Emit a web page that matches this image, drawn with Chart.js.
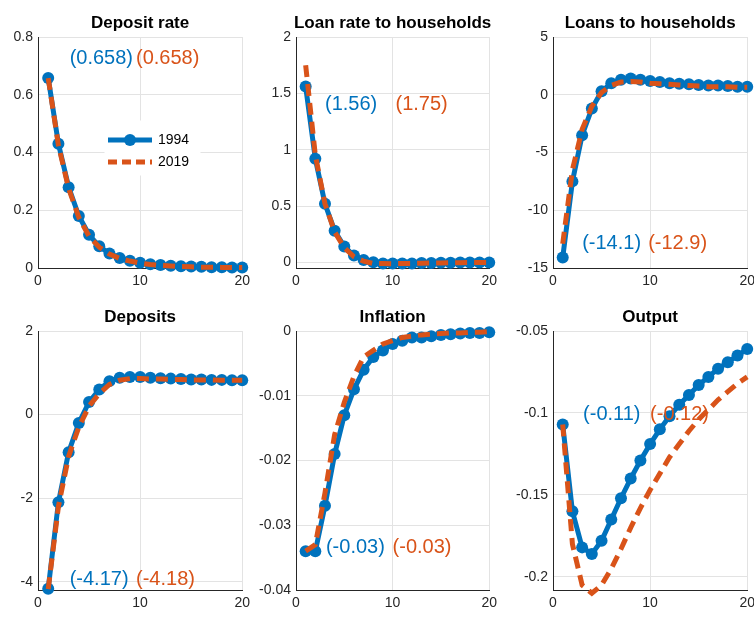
<!DOCTYPE html><html><head><meta charset="utf-8">
<script src="https://cdn.jsdelivr.net/npm/chart.js@4/dist/chart.umd.min.js"></script>
<style>body{margin:0;background:#fff;width:754px;height:619px;overflow:hidden;position:relative;font-family:"Liberation Sans",Arial,sans-serif}
.c{position:absolute}</style></head><body>
<script>
const periods=[1,2,3,4,5,6,7,8,9,10,11,12,13,14,15,16,17,18,19,20];
const depRate94=[0.658,0.43,0.28,0.18,0.115,0.075,0.05,0.035,0.025,0.018,0.013,0.01,0.008,0.006,0.005,0.004,0.003,0.003,0.002,0.002];
const depRate19=[0.658,0.425,0.275,0.175,0.11,0.072,0.048,0.033,0.024,0.017,0.012,0.009,0.007,0.005,0.004,0.003,0.003,0.002,0.002,0.002];
const loanRate94=[1.56,0.92,0.52,0.28,0.14,0.06,0.02,0,-0.01,-0.01,-0.01,-0.01,-0.005,-0.005,-0.004,-0.003,-0.002,-0.002,-0.001,-0.001];
const loanRate19=[1.75,0.95,0.52,0.27,0.13,0.05,0.01,-0.01,-0.01,-0.012,-0.01,-0.01,-0.008,-0.006,-0.005,-0.004,-0.003,-0.002,-0.002,-0.001];
const loans94=[-14.1,-7.5,-3.5,-1.2,0.3,1.0,1.3,1.4,1.3,1.2,1.1,1.0,0.95,0.9,0.85,0.8,0.8,0.75,0.7,0.7];
const loans19=[-12.9,-6.5,-3.0,-1.0,0.2,0.8,1.1,1.15,1.1,1.0,0.95,0.9,0.85,0.8,0.75,0.7,0.7,0.7,0.65,0.65];
const deps94=[-4.17,-2.1,-0.9,-0.2,0.3,0.6,0.8,0.88,0.9,0.9,0.88,0.87,0.86,0.85,0.84,0.84,0.83,0.83,0.82,0.82];
const deps19=[-4.18,-2.2,-1.0,-0.3,0.2,0.5,0.72,0.82,0.86,0.86,0.85,0.85,0.84,0.84,0.83,0.83,0.83,0.82,0.82,0.82];
const infl94=[-0.034,-0.034,-0.027,-0.019,-0.013,-0.009,-0.006,-0.004,-0.003,-0.002,-0.0015,-0.001,-0.001,-0.0008,-0.0006,-0.0005,-0.0004,-0.0003,-0.0003,-0.0002];
const infl19=[-0.034,-0.033,-0.025,-0.016,-0.011,-0.007,-0.004,-0.003,-0.002,-0.0015,-0.001,-0.0008,-0.0006,-0.0005,-0.0004,-0.0003,-0.0003,-0.0002,-0.0002,-0.0001];
const out94=[-0.107,-0.16,-0.182,-0.186,-0.178,-0.165,-0.152,-0.14,-0.129,-0.119,-0.11,-0.102,-0.095,-0.089,-0.083,-0.078,-0.073,-0.069,-0.065,-0.061];
const out19=[-0.107,-0.18,-0.205,-0.21,-0.205,-0.195,-0.183,-0.17,-0.158,-0.147,-0.137,-0.127,-0.119,-0.111,-0.104,-0.098,-0.092,-0.087,-0.082,-0.078];
const xTicks=[0,10,20];
const BLUE='#0072BD',ORANGE='#D95319';
const panels=[
 {t:'Deposit rate',a:depRate94,b:depRate19,min:0,max:0.8,step:0.2,r:[38,37,205,231],ann:[[3.1,0.725,'(0.658)',BLUE],[9.6,0.725,'(0.658)',ORANGE]],leg:true},
 {t:'Loan rate to households',a:loanRate94,b:loanRate19,min:-0.05,max:2,step:0.5,ticks:[0,0.5,1,1.5,2],r:[296,37,194,231],ann:[[3,1.4,'(1.56)',BLUE],[10.3,1.4,'(1.75)',ORANGE]]},
 {t:'Loans to households',a:loans94,b:loans19,min:-15,max:5,step:5,r:[553,37,195,231],ann:[[3,-12.9,'(-14.1)',BLUE],[9.8,-12.9,'(-12.9)',ORANGE]]},
 {t:'Deposits',a:deps94,b:deps19,min:-4.2,max:2,step:2,ticks:[-4,-2,0,2],r:[38,331,205,259],ann:[[3.1,-3.95,'(-4.17)',BLUE],[9.6,-3.95,'(-4.18)',ORANGE]]},
 {t:'Inflation',a:infl94,b:infl19,min:-0.04,max:0,step:0.01,r:[296,331,194,259],ann:[[3.1,-0.0335,'(-0.03)',BLUE],[10,-0.0335,'(-0.03)',ORANGE]]},
 {t:'Output',a:out94,b:out19,min:-0.208,max:-0.05,step:0.05,ticks:[-0.2,-0.15,-0.1,-0.05],r:[553,331,195,259],ann:[[3.1,-0.101,'(-0.11)',BLUE],[10,-0.101,'(-0.12)',ORANGE]]}
];
const L=40,T=30,B=25,R=12;
const deco={id:'deco',afterDatasetsDraw(c,args,o){const ctx=c.ctx,a=c.chartArea,p=o.p;
 ctx.save();ctx.fillStyle='#000';ctx.font='bold 17px "Liberation Sans",Arial';ctx.textAlign='center';ctx.textBaseline='bottom';
 ctx.fillText(p.t,(a.left+a.right)/2,a.top-5);
 ctx.font='20px "Liberation Sans",Arial';ctx.textAlign='left';ctx.textBaseline='middle';
 for(const [x,y,s,col] of p.ann){ctx.fillStyle=col;ctx.fillText(s,c.scales.x.getPixelForValue(x),c.scales.y.getPixelForValue(y));}
 if(p.leg){const bx=a.left+67,by=a.top+84;
  ctx.fillStyle='#fff';ctx.fillRect(bx,by,95,54);ctx.strokeStyle='#fff';ctx.lineWidth=1;ctx.strokeRect(bx,by,95,54);
  const lx=bx+3,ly=by+19;ctx.lineWidth=5;
  ctx.strokeStyle=BLUE;ctx.beginPath();ctx.moveTo(lx,ly);ctx.lineTo(lx+44,ly);ctx.stroke();
  ctx.fillStyle=BLUE;ctx.beginPath();ctx.arc(lx+22,ly,6,0,7);ctx.fill();
  ctx.strokeStyle=ORANGE;ctx.setLineDash([9,5]);ctx.beginPath();ctx.moveTo(lx,ly+22);ctx.lineTo(lx+44,ly+22);ctx.stroke();ctx.setLineDash([]);
  ctx.fillStyle='#000';ctx.font='14px "Liberation Sans",Arial';ctx.fillText('1994',lx+50,ly);ctx.fillText('2019',lx+50,ly+22);}
 ctx.restore();}};
panels.forEach(p=>{const cv=document.createElement('canvas');cv.className='c';
 const w=p.r[2]+L+R,h=p.r[3]+T+B;cv.style.left=(p.r[0]-L)+'px';cv.style.top=(p.r[1]-T)+'px';cv.style.width=w+'px';cv.style.height=h+'px';
 cv.width=w;cv.height=h;
 document.body.appendChild(cv);
 new Chart(cv,{type:'line',data:{labels:periods,datasets:[
  {data:p.a.map((v,i)=>({x:periods[i],y:v})),order:2,borderColor:BLUE,backgroundColor:BLUE,borderWidth:5,pointRadius:6,pointBorderWidth:0,pointStyle:'circle'},
  {data:p.b.map((v,i)=>({x:periods[i],y:v})),order:1,borderColor:ORANGE,borderWidth:5,borderDash:[12,7],pointRadius:0}]},
 options:{responsive:false,animation:false,devicePixelRatio:1,layout:{padding:{top:T,right:R,left:0,bottom:0}},clip:false,
  plugins:{legend:{display:false},tooltip:{enabled:false},deco:{p}},
  scales:{x:{type:'linear',min:0,max:20,afterBuildTicks:s=>{s.ticks=xTicks.map(v=>({value:v}))},afterFit:s=>{s.height=B},
    grid:{color:'#e3e3e3',drawTicks:false},border:{color:'#262626'},ticks:{color:'#262626',font:{size:14,family:'"Liberation Sans",Arial'},padding:5,maxRotation:0}},
   y:{min:p.min,max:p.max,afterBuildTicks:s=>{const t=p.ticks||(()=>{const r=[];for(let v=p.min;v<=p.max+1e-9;v+=p.step)r.push(+v.toFixed(4));return r})();s.ticks=t.map(v=>({value:v}))},
    afterFit:s=>{s.width=L},grid:{color:'#e3e3e3',drawTicks:false},border:{color:'#262626'},
    ticks:{color:'#262626',font:{size:14,family:'"Liberation Sans",Arial'},padding:5,callback:v=>String(+v.toFixed(4))}}}},
 plugins:[deco]});
});
</script></body></html>
